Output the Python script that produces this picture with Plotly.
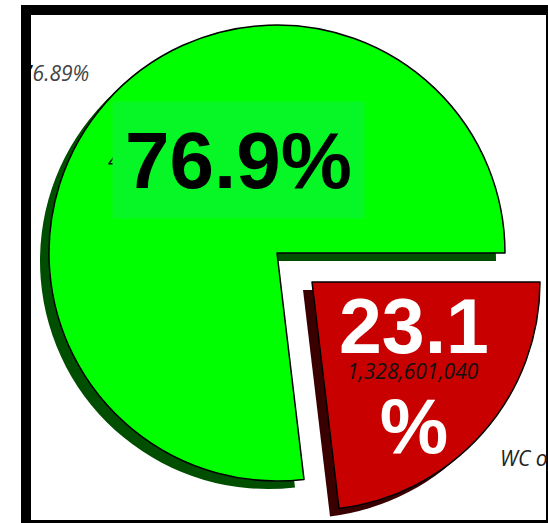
import plotly.graph_objects as go

#data
LABELS = ['WC only', 'Other']
VALUES = [1328601040, 4420429860]
BIG_LABELS = ['23.1<br>%', '76.9%']
OUTSIDE_TEXT = ['WC only', '76.89%']

#figure settings
W, H = 548, 523
R = 228
SHADOW = (-9, 8)
GREEN_CENTER = (277, 253)
RED_CENTER = (312, 282)
COLORS = {'red': '#c80000', 'green': '#00ff00',
          'red_shadow': '#3a0000', 'green_shadow': '#004f00'}
TEXT_FONT = {'family': 'Open Sans', 'size': 21, 'style': 'italic'}

'''helpers for pixel -> paper coords'''
def px_x(x):
    return x / W

def px_y(y):
    return 1 - y / H

def domain(center, r=R):
    cx, cy = center
    return {'x': [px_x(cx - r), px_x(cx + r)],
            'y': [px_y(cy + r), px_y(cy - r)]}

def shifted(center, off=SHADOW):
    return (center[0] + off[0], center[1] + off[1])

def slice_trace(center, idx, color, line_w):
    #one pie per visible slice, the other slice is left transparent
    colors = ['rgba(0,0,0,0)'] * 2
    colors[idx] = color
    widths = [0, 0]
    widths[idx] = line_w
    return go.Pie(labels=LABELS, values=VALUES, sort=False, direction='clockwise',
                  rotation=90, domain=domain(center), textinfo='none',
                  marker={'colors': colors, 'line': {'color': 'black', 'width': widths}},
                  hoverinfo='label+value+percent', showlegend=False)

def add_text(fig, x, y, text, color, xanchor='center', **font):
    fig.add_annotation(x=px_x(x), y=px_y(y), xref='paper', yref='paper',
                       xanchor=xanchor, yanchor='middle', showarrow=False, text=text,
                       font={**TEXT_FONT, 'color': color, **font})

fig = go.Figure()
#shadows
fig.add_trace(slice_trace(shifted(GREEN_CENTER), 1, COLORS['green_shadow'], 0))
fig.add_trace(slice_trace(shifted(RED_CENTER), 0, COLORS['red_shadow'], 0))
#slices
fig.add_trace(slice_trace(GREEN_CENTER, 1, COLORS['green'], 1.5))
fig.add_trace(slice_trace(RED_CENTER, 0, COLORS['red'], 1.5))

#small italic labels (first digit of the percent sits on the black frame)
pct = OUTSIDE_TEXT[1]
add_text(fig, 91, 73, f'<span style="color:black">{pct[0]}</span>{pct[1:]}', '#444', xanchor='right')
add_text(fig, 498, 458, OUTSIDE_TEXT[0], '#222', xanchor='left')
add_text(fig, 106, 160, f'{VALUES[1]:,}', '#111', xanchor='left')
add_text(fig, 413, 371, f'{VALUES[0]:,}', '#111')

#big percentage labels
fig.add_annotation(x=px_x(238.5), y=px_y(160), xref='paper', yref='paper',
                   xanchor='center', yanchor='middle',
                   text=BIG_LABELS[1], showarrow=False, bgcolor='#07f626',
                   width=245, height=110, borderpad=3,
                   font={'family': 'Liberation Sans', 'size': 80, 'color': 'black', 'weight': 'bold'})
fig.add_annotation(x=px_x(414), y=px_y(376), xref='paper', yref='paper',
                   xanchor='center', yanchor='middle',
                   text=BIG_LABELS[0], showarrow=False,
                   font={'family': 'Liberation Sans', 'size': 77, 'color': 'white', 'weight': 'bold'})

#frame
fig.add_shape(type='rect', xref='paper', yref='paper', layer='above',
              x0=px_x(26), x1=px_x(551), y0=px_y(525), y1=px_y(10),
              line={'color': 'black', 'width': 10})

fig.update_layout(width=W, height=H, margin={'l': 0, 'r': 0, 't': 0, 'b': 0},
                  paper_bgcolor='white', plot_bgcolor='white')

#page margin off so the figure sits at the window corner
fig.write_html('out.html', config={'displayModeBar': False},
               post_script="document.body.style.margin='0';")
